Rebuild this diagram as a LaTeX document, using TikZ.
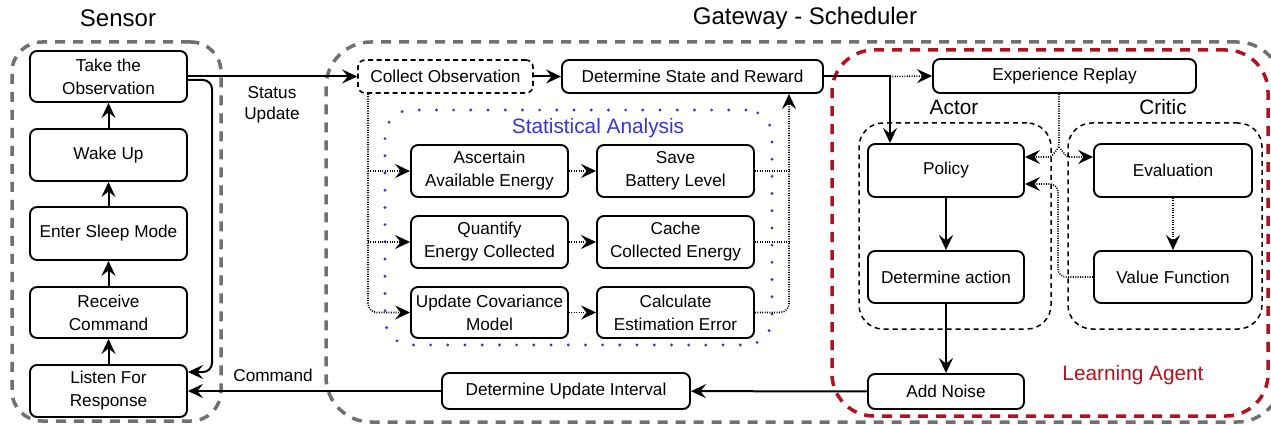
\documentclass[tikz,border=0pt]{standalone}
\usepackage{fontspec}
\setmainfont{Liberation Sans}
\usetikzlibrary{arrows.meta}
\definecolor{grpgray}{RGB}{112,112,112}
\definecolor{sblue}{RGB}{55,55,205}
\definecolor{lred}{RGB}{178,18,28}
\begin{document}
\begin{tikzpicture}[x=1pt,y=-1pt,
  box/.style={draw, line width=1.9pt, rounded corners=7pt, align=center, inner sep=0pt, fill=white,
    font=\fontsize{17.2}{23}\selectfont},
  dbox/.style={box, line width=1.6pt, dash pattern=on 5pt off 3.5pt},
  ggroup/.style={draw=grpgray, line width=3.5pt, dash pattern=on 10pt off 8pt, inner sep=0pt},
  rgroup/.style={draw=lred, line width=3.5pt, dash pattern=on 10pt off 8pt, inner sep=0pt, rounded corners=42pt},
  bgroup/.style={draw=sblue, line width=3.2pt, dash pattern=on 0pt off 17.2pt, line cap=round, inner sep=0pt, rounded corners=26pt},
  kgroup/.style={draw, line width=1.5pt, dash pattern=on 5pt off 4pt, inner sep=0pt, rounded corners=24pt},
  lbl/.style={align=center, inner sep=0pt, font=\fontsize{17.2}{20.5}\selectfont},
  gtitle/.style={inner sep=0pt, font=\fontsize{20.8}{24}\selectfont},
  mtitle/.style={inner sep=0pt, font=\fontsize{24}{28}\selectfont},
  arr/.style={line width=2pt, -{Stealth[length=15pt,width=14pt,inset=5.5pt]}},
  dotl/.style={line width=1.6pt, dash pattern=on 1pt off 1.4pt},
  dotarr/.style={dotl, -{Stealth[length=15pt,width=14pt,inset=5.5pt]}},
]
\useasboundingbox (0,0) rectangle (1271,425);
\clip (0,0) rectangle (1271,425);

% titles
\node[mtitle] (tsensor) at (118,18) {Sensor};
\node[mtitle] (tgateway) at (805,18) {Gateway - Scheduler};

% groups
\node[ggroup, rounded corners=30pt, minimum width=209pt, minimum height=379pt] (sensorgrp) at (116.5,231.5) {};
\node[ggroup, rounded corners=45pt, minimum width=956pt, minimum height=380pt] (gatewaygrp) at (804,232) {};
\node[rgroup, minimum width=436pt, minimum height=366pt] (agentgrp) at (1050,233) {};
\node[bgroup, minimum width=387pt, minimum height=235pt] (statgrp) at (578.5,227.5) {};
\node[kgroup, minimum width=192pt, minimum height=206pt] (actorgrp) at (955,226) {};
\node[kgroup, minimum width=194pt, minimum height=206pt] (criticgrp) at (1165,226) {};

% group labels
\node[gtitle, text=sblue] (tstat) at (598,128) {Statistical Analysis};
\node[gtitle] (tactor) at (954,107) {Actor};
\node[gtitle] (tcritic) at (1163,107) {Critic};
\node[gtitle, text=lred] (tagent) at (1133,375) {Learning Agent};

% sensor boxes
\node[box, minimum width=157pt, minimum height=51pt] (take) at (108.5,76.5) {Take the\\Observation};
\node[box, minimum width=157pt, minimum height=52pt] (wake) at (108.5,155) {Wake Up};
\node[box, minimum width=157pt, minimum height=53pt] (sleep) at (108.5,233.5) {Enter Sleep Mode};
\node[box, minimum width=157pt, minimum height=51pt] (recv) at (108.5,312.5) {Receive\\Command};
\node[box, minimum width=157pt, minimum height=52pt] (listen) at (108.5,391) {Listen For\\Response};

% gateway boxes
\node[dbox, minimum width=175pt, minimum height=33pt] (collect) at (445.5,76.5) {Collect Observation};
\node[box, minimum width=261pt, minimum height=33pt] (dsr) at (692.5,76.5) {Determine State and Reward};
\node[box, minimum width=157pt, minimum height=52pt] (asc) at (489.5,171) {Ascertain\\Available Energy};
\node[box, minimum width=157pt, minimum height=52pt] (save) at (675.5,171) {Save\\Battery Level};
\node[box, minimum width=157pt, minimum height=52pt] (quant) at (489.5,242) {Quantify\\Energy Collected};
\node[box, minimum width=157pt, minimum height=52pt] (cache) at (675.5,242) {Cache\\Collected Energy};
\node[box, minimum width=157pt, minimum height=51pt] (upd) at (489.5,312.5) {Update Covariance\\Model};
\node[box, minimum width=157pt, minimum height=51pt] (calc) at (675.5,312.5) {Calculate\\Estimation Error};
\node[box, minimum width=248pt, minimum height=36pt] (dui) at (566,391) {Determine Update Interval};

% agent boxes
\node[box, minimum width=263pt, minimum height=34pt] (exp) at (1064.5,76) {Experience Replay};
\node[box, minimum width=156pt, minimum height=53pt] (policy) at (946,170.5) {Policy};
\node[box, minimum width=156pt, minimum height=52pt] (action) at (946,277) {Determine action};
\node[box, minimum width=158pt, minimum height=53pt] (eval) at (1173,170.5) {Evaluation};
\node[box, minimum width=158pt, minimum height=52pt] (vf) at (1173,277) {Value Function};
\node[box, minimum width=156pt, minimum height=35pt] (noise) at (946,391.5) {Add Noise};

% labels
\node[lbl] (status) at (272,105) {Status\\Update};
\node[lbl] (command) at (273,375) {Command};

% sensor chain
\draw[arr] (listen) -- (recv);
\draw[arr] (recv) -- (sleep);
\draw[arr] (sleep) -- (wake);
\draw[arr] (wake) -- (take);
\draw[arr] (take.east) -- (collect.west);
\draw[arr, rounded corners=9pt] ([yshift=-3.5pt]take.east) -| (212,372) -- ([yshift=19pt]listen.east);

% gateway
\draw[arr] (collect.east) -- (dsr.west);
\coordinate (cl) at ([xshift=-77.5pt]collect.south);
\coordinate (cr) at ([xshift=96.5pt]dsr.south);
\draw[dotarr, rounded corners=9pt] (cl) |- (upd.west);
\draw[dotarr] (cl |- asc.west) -- (asc.west);
\draw[dotarr] (cl |- quant.west) -- (quant.west);
\draw[dotarr] (asc) -- (save);
\draw[dotarr] (quant) -- (cache);
\draw[dotarr] (upd) -- (calc);
\draw[dotarr, rounded corners=9pt] (calc.east) -| (cr);
\draw[dotl] (save.east) -- (cr |- save.east);
\draw[dotl] (cache.east) -- (cr |- cache.east);

% agent
\coordinate (j1) at (890,76.5);
\draw[arr] (dsr.east) -| ([xshift=-56pt]policy.north);
\draw[dotarr] (j1) -- (exp.west);
\coordinate (er) at ([xshift=-5.5pt]exp.south);
\coordinate (sp) at (1059,147);
\draw[dotarr, rounded corners=3pt] (er) -- (sp) -- (1051,157) -- ([yshift=13.5pt]policy.east);
\draw[dotarr, rounded corners=3pt] (sp) -- (1067,157) -- ([yshift=13.5pt]eval.west);
\draw[dotarr, rounded corners=8pt] (vf.west) -| (1058,184) -- ([yshift=-13.5pt]policy.east);
\draw[dotarr] (eval) -- (vf);
\draw[arr] (policy) -- (action);
\draw[arr] (action) -- (noise);
\draw[arr] (noise) -- (dui);
\draw[arr] (dui) -- (listen);
\end{tikzpicture}
\end{document}
